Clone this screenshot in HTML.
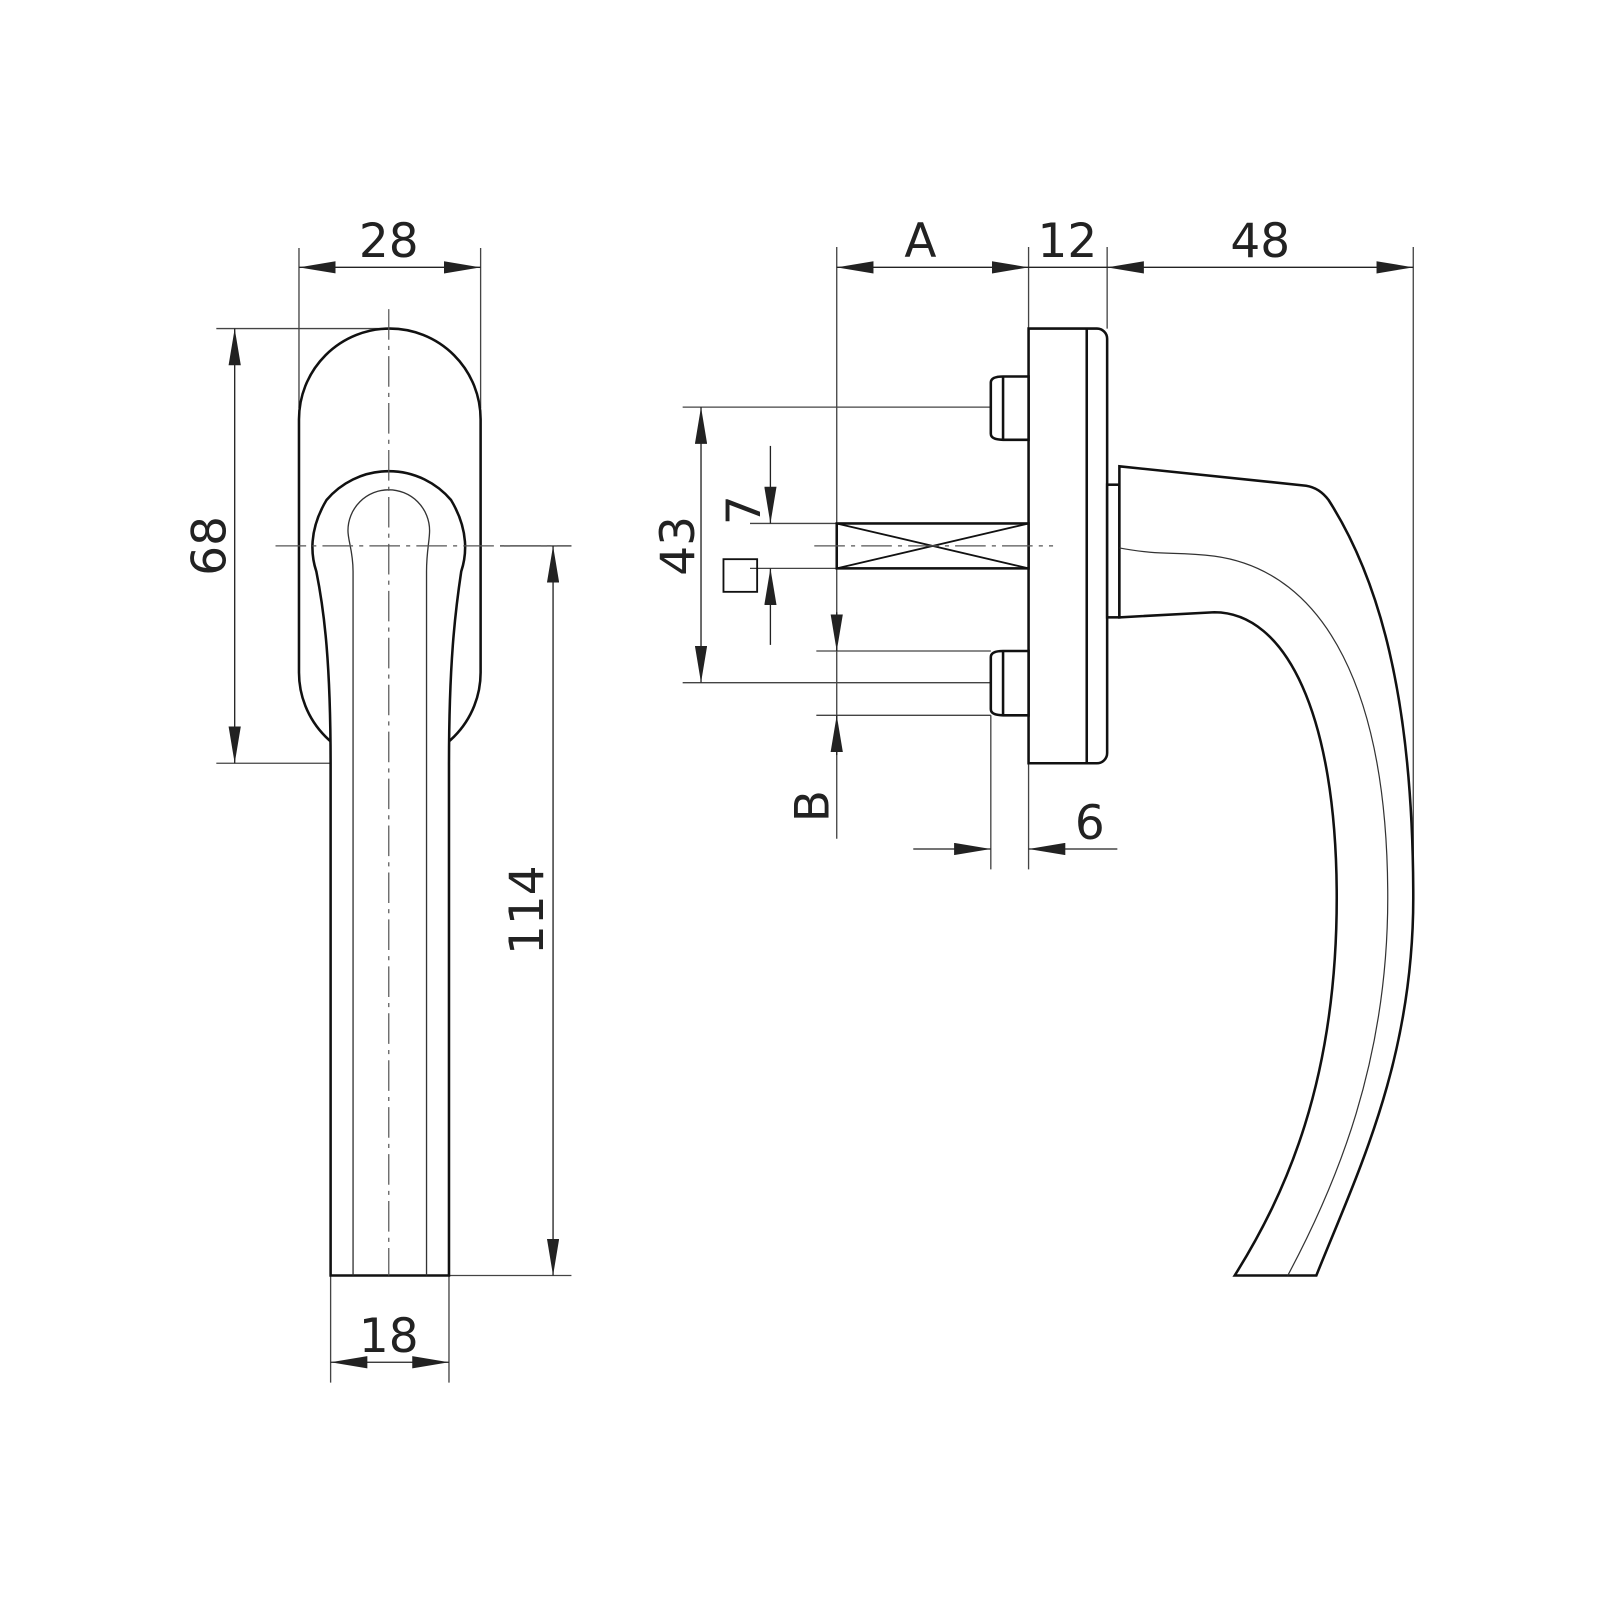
<!DOCTYPE html>
<html><head><style>html,body{margin:0;background:#fff}svg{display:block}</style></head><body>
<svg width="1600" height="1600" viewBox="0 0 1568 1568" xmlns="http://www.w3.org/2000/svg" font-family="'DejaVu Sans','Liberation Sans',sans-serif" font-size="46" fill="#222">
<defs>
<marker id="a" viewBox="0 0 36 12" refX="36" refY="6" markerWidth="36" markerHeight="12" markerUnits="userSpaceOnUse" orient="auto-start-reverse"><path d="M0,0L36,6L0,12z" fill="#222"/></marker>
</defs>
<g stroke="#444" stroke-width="1.3" fill="none">
<path d="M293,243V400M471,243V400M212,322H381M212,748H381M490,535H560M440,1250H560M324,1250V1355M440,1250V1355"/>
<path d="M820,242V822M1008,242V322M1085,242V322M1385,242V880M669,399H1030M669,669H1030M735,513H1008M735,557H1008M800,638H971M800,701H971M971,701V852M1008,748V852"/>
</g>
<g stroke="#222" stroke-width="1.3" fill="none">
<line x1="293" y1="262" x2="471" y2="262" marker-start="url(#a)" marker-end="url(#a)"/>
<line x1="230" y1="322" x2="230" y2="748" marker-start="url(#a)" marker-end="url(#a)"/>
<line x1="542" y1="535" x2="542" y2="1250" marker-start="url(#a)" marker-end="url(#a)"/>
<line x1="324" y1="1335" x2="440" y2="1335" marker-start="url(#a)" marker-end="url(#a)"/>
<line x1="820" y1="262" x2="1008" y2="262" marker-start="url(#a)" marker-end="url(#a)"/>
<line x1="1008" y1="262" x2="1085" y2="262"/>
<line x1="1085" y1="262" x2="1385" y2="262" marker-start="url(#a)" marker-end="url(#a)"/>
<line x1="687" y1="399" x2="687" y2="669" marker-start="url(#a)" marker-end="url(#a)"/>
<line x1="755" y1="437" x2="755" y2="513" marker-end="url(#a)"/>
<line x1="755" y1="632" x2="755" y2="557" marker-end="url(#a)"/>
<line x1="820" y1="600" x2="820" y2="638" marker-end="url(#a)"/>
<line x1="820" y1="740" x2="820" y2="701" marker-end="url(#a)"/>
<line x1="895" y1="832" x2="971" y2="832" marker-end="url(#a)"/>
<line x1="1095" y1="832" x2="1008" y2="832" marker-end="url(#a)"/>
</g>
<g stroke="#111" stroke-width="2.5" fill="#fff">
<path d="M293,411A89,89 0 0 1 471,411V659A89,89 0 0 1 382,748H382A89,89 0 0 1 293,659Z"/>
<path d="M310,560C305,545 302,520 320,490A80,80 0 0 1 442,490C460,520 457,545 452,560C446,600 440,650 440,750V1250H324V750C324,650 318,600 310,560Z"/>
</g>
<g stroke="#333" stroke-width="1.3" fill="none">
<path d="M346,1250V560C346,540 341,530 341,520A40,40 0 0 1 421,520C421,530 418,540 418,560V1250"/>
</g>
<g stroke="#111" stroke-width="2.5" fill="#fff">
<path d="M1008,322H1075A10,10 0 0 1 1085,332V738A10,10 0 0 1 1075,748H1008Z"/>
<path d="M1065,322V748" fill="none"/>
<path d="M971,375Q971,369 983,369H1008V431H983Q971,431 971,425Z"/>
<path d="M983,369V431" fill="none"/>
<path d="M971,644Q971,638 983,638H1008V701H983Q971,701 971,695Z"/>
<path d="M983,638V701" fill="none"/>
<rect x="820" y="513" width="188" height="44"/>
<path d="M820,513L1008,557M820,557L1008,513" fill="none" stroke-width="1.8"/>
<rect x="1085" y="475" width="12" height="130"/>
<path d="M1097,457L1280,476Q1293,478 1302,490C1350,565 1385,680 1385,880C1385,1040 1330,1150 1290,1250H1210C1260,1170 1310,1060 1310,880C1310,700 1260,600 1190,600L1097,605Z"/>
</g>
<path d="M1097,537C1140,545 1150,540 1190,545C1300,560 1360,680 1360,880C1360,1040 1310,1160 1262,1250" stroke="#333" stroke-width="1.2" fill="none"/>
<rect x="709" y="548" width="33" height="32" fill="none" stroke="#111" stroke-width="1.8"/>
<g stroke="#555" stroke-width="1.2" stroke-dasharray="30,6,4,6" fill="none">
<path d="M381,303V1250M270,535H560M798,535H1032"/>
</g>
<g text-anchor="middle">
<text x="381" y="252">28</text>
<text x="381" y="1325">18</text>
<text x="902" y="252">A</text>
<text x="1046" y="252">12</text>
<text x="1235" y="252">48</text>
<text x="1068" y="822">6</text>
<text transform="translate(221,535) rotate(-90)">68</text>
<text transform="translate(532,892) rotate(-90)">114</text>
<text transform="translate(680,535) rotate(-90)">43</text>
<text transform="translate(745,500) rotate(-90)">7</text>
<text transform="translate(812,790) rotate(-90)">B</text>
</g>
</svg>
</body></html>
